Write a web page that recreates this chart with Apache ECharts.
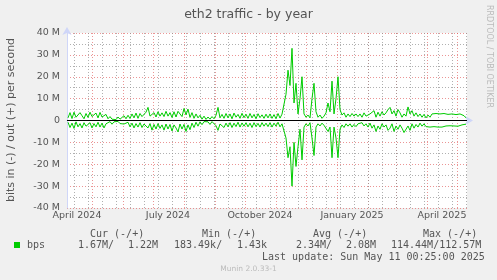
<!DOCTYPE html>
<html><head><meta charset="utf-8">
<script src="https://cdn.jsdelivr.net/npm/echarts@6/dist/echarts.min.js"></script>
<style>html,body{margin:0;padding:0;background:#F0F0F0;} #c{width:497px;height:280px;}</style>
</head><body><div id="c"></div>
<script>
// ---- data ----
const windowStart = '2024-04-06';   // left edge of the graph (400 days shown)
const windowDays = 400;
const firstSampleDay = 1;           // day offset of first sample
const sampleStepDays = 2;           // days between samples

// out (+) traffic, Mbit/s
const outMbps = [
 1.2, 3.6, 0.9, 3.8, 1.5, 1.0, 3.6, 2.2, 0.8, 3.2,
 1.4, 3.8, 1.8, 0.9, 3.4, 1.2, 3.7, 1.6, 1.0, 2.8,
 0.8, 1.8, 0.6, 1.4, 0.4, 1.6, 0.6, 1.2, 2.2, 0.8,
 2.4, 0.9, 3.0, 1.2, 3.4, 1.0, 3.2, 1.8, 1.2, 3.8,
 6.0, 2.0, 1.2, 3.6, 1.6, 4.0, 2.0, 3.5, 1.8, 4.2,
 2.0, 3.6, 1.4, 4.0, 1.6, 4.2, 4.4, 1.8, 5.5, 2.6,
 5.2, 1.4, 3.6, 1.0, 3.0, 1.2, 2.4, 0.6, 2.0, 0.5,
 1.6, 0.6, 1.8, 0.8, 2.4, 6.0, 1.2, 2.8, 1.0, 3.2,
 1.2, 3.0, 0.8, 3.4, 1.5, 2.8, 1.0, 3.3, 1.3, 2.9,
 1.0, 3.2, 1.2, 2.8, 0.8, 3.1, 1.3, 2.6, 1.0, 2.9,
 1.2, 3.0, 1.0, 2.7, 0.8, 3.2, 1.1, 2.9, 2.0,
 12, 23, 16, 33, 8, 17, 3, 10, 20, 3,
 1.5, 2.5, 1.2, 10, 17, 4, 1.5, 2.5, 1.0, 2.0,
 3.5, 8, 4, 18, 3, 10, 20, 5, 2.5, 3.5,
 1.5, 3.0, 1.8, 3.2, 2.0, 3.0, 1.8,
 3.0, 1.5, 3.5, 2.0, 1.2, 3.0, 2.2, 4.5, 1.5, 3.8,
 2.0, 4.0, 2.5, 3.5, 5.0, 6.0, 3.0, 4.5, 2.0, 5.0,
 3.5, 1.5, 3.0, 2.0, 6.2, 3.0, 4.5, 2.0, 3.5, 1.8,
 3.0, 1.5, 2.8, 1.2, 2.5, 1.5, 3.0, 2.5, 3.2, 2.8,
 3.0, 2.4, 3.2, 2.6, 2.8, 2.2, 3.0, 2.5, 2.7, 2.0,
 3.0, 2.5, 2.2, 1.2
];
// in (-) traffic, Mbit/s (drawn below zero)
const inMbps = [
 0.8, 3.2, 1.2, 3.6, 0.6, 2.9, 1.4, 3.4, 1.0, 2.6,
 3.2, 1.0, 3.4, 1.4, 2.9, 0.8, 3.0, 1.2, 3.4, 1.5,
 1.4, 0.5, 1.7, 0.6, 1.2, 0.4, 1.4, 0.6, 1.6, 2.3,
 0.8, 2.9, 1.2, 3.4, 1.4, 3.0, 1.0, 3.2, 1.6, 1.2,
 3.4, 1.4, 4.4, 1.8, 3.9, 1.4, 3.6, 2.0, 4.4, 1.6,
 3.9, 1.8, 4.8, 2.0, 3.4, 5.2, 1.6, 3.9, 1.8, 5.0,
 2.0, 4.2, 1.2, 3.2, 0.8, 2.6, 0.6, 1.9, 0.5, 1.4,
 0.6, 1.8, 0.5, 1.4, 2.4, 4.5, 1.6, 1.0, 3.2, 1.2,
 2.9, 1.0, 3.2, 1.2, 2.8, 0.8, 3.0, 1.1, 2.6, 1.0,
 2.9, 1.2, 3.2, 1.0, 2.8, 1.3, 3.0, 1.0, 2.6, 1.2,
 2.8, 1.0, 3.0, 1.2, 2.6, 0.8, 2.9, 1.5, 2.0,
 8, 17, 12, 30, 10, 21, 12, 4, 18, 3,
 1.5, 2.5, 1.0, 8, 16, 3, 1.5, 2.5, 1.2, 2.2,
 2.8, 5, 3, 17, 3, 8, 17, 4, 2.0, 3.2,
 1.5, 2.6, 1.5, 3.0, 1.8, 2.8, 1.5,
 2.0, 1.0, 2.5, 1.5, 3.0, 1.2, 3.5, 2.0, 5.0, 2.5,
 4.0, 1.5, 3.0, 2.0, 4.5, 3.5, 1.5, 5.0, 2.5, 4.0,
 2.0, 3.5, 5.5, 6.4, 2.5, 4.5, 1.5, 3.5, 1.8, 3.0,
 1.2, 2.6, 1.5, 2.8, 2.0, 3.0, 2.6, 2.8, 2.2, 3.0,
 2.5, 3.0, 2.7, 2.5, 3.0, 2.4, 2.8, 2.5, 3.0, 2.6,
 2.8, 2.0, 2.5, 1.67
];

const yTickValues = [-40, -30, -20, -10, 0, 10, 20, 30, 40];
const monthStarts = ['2024-05-01','2024-06-01','2024-07-01','2024-08-01','2024-09-01','2024-10-01',
  '2024-11-01','2024-12-01','2025-01-01','2025-02-01','2025-03-01','2025-04-01','2025-05-01'];
const firstMinorGrid = '2024-04-13';
const minorGridStepDays = 14;
const xLabelDates = ['2024-04-16','2024-07-16','2024-10-16','2025-01-16','2025-04-16'];
const xLabelTexts = ['April 2024','July 2024','October 2024','January 2025','April 2025'];

const title = 'eth2 traffic - by year';
const yName = 'bits in (-) / out (+) per second';
const legendHeaders = ['Cur (-/+)', 'Min (-/+)', 'Avg (-/+)', 'Max (-/+)'];
const legendName = 'bps';
const legendValues = ['1.67M/', '1.22M', '183.49k/', '1.43k', '2.34M/', '2.08M', '114.44M/112.57M'];
const lastUpdate = 'Last update: Sun May 11 00:25:00 2025';
const footer = 'Munin 2.0.33-1';
const sideText = 'RRDTOOL / TOBI OETIKER';

// ---- helpers ----
const DAY = 86400000;
const t0 = Date.parse(windowStart);
const dayOf = s => Math.round((Date.parse(s) - t0) / DAY);
const monthDays = monthStarts.map(dayOf);
const minorDays = [];
for (let d = dayOf(firstMinorGrid); d <= windowDays; d += minorGridStepDays) minorDays.push(d);
const labelDays = xLabelDates.map(dayOf);
const labelMap = {};
labelDays.forEach((d, i) => labelMap[d] = xLabelTexts[i]);
const sampleDays = outMbps.map((_, i) => firstSampleDay + i * sampleStepDays);

const FONT = '"DejaVu Sans", sans-serif';
const MONO = '"DejaVu Sans Mono", monospace';
const TXT = '#555';
const RED = 'rgba(222,79,79,0.6)';
const GREY = 'rgba(143,143,143,0.7)';
const AXIS = '#CFD6F8';

const chart = echarts.init(document.getElementById('c'), null, {renderer: 'canvas'});

const legendX = {hdr: [90, 202, 313, 423], vals: [78, 128, 174, 237, 296, 346, 391]};
const graphics = [
  {type: 'text', x: 11, y: 120, rotation: Math.PI / 2,
   style: {text: yName, fill: TXT, font: '11px ' + FONT, textAlign: 'center', textVerticalAlign: 'middle'}},
  {type: 'text', x: 489, y: 5, rotation: -Math.PI / 2,
   style: {text: sideText, fill: '#bbb', font: '8px ' + FONT, textAlign: 'left', textVerticalAlign: 'middle'}},
  {type: 'rect', shape: {x: 14, y: 242, width: 6, height: 6}, style: {fill: '#00CC00'}},
  {type: 'text', x: 27, y: 245.5, style: {text: legendName, fill: TXT, font: '10px ' + MONO, textVerticalAlign: 'middle'}},
  {type: 'text', x: 262, y: 257.5, style: {text: lastUpdate, fill: TXT, font: '10px ' + MONO, textVerticalAlign: 'middle'}},
  {type: 'text', x: 248.5, y: 269.5, style: {text: footer, fill: '#bbb', font: '7.5px ' + FONT, textAlign: 'center', textVerticalAlign: 'middle'}}
];
legendHeaders.forEach((h, i) => graphics.push({type: 'text', x: legendX.hdr[i], y: 234,
  style: {text: h, fill: TXT, font: '10px ' + MONO, textVerticalAlign: 'middle'}}));
legendValues.forEach((v, i) => graphics.push({type: 'text', x: legendX.vals[i], y: 245.5,
  style: {text: v, fill: TXT, font: '10px ' + MONO, textVerticalAlign: 'middle'}}));

const greenLine = {type: 'line', showSymbol: false, symbol: 'none', animation: false, z: 3,
  lineStyle: {color: '#00CC00', width: 1}};

chart.setOption({
  backgroundColor: '#F0F0F0',
  animation: false,
  title: {text: title, left: 'center', top: 3,
    textStyle: {color: TXT, fontSize: 12.5, fontWeight: 'normal', fontFamily: FONT}},
  grid: {left: 67, right: 30, top: 33, bottom: 72, show: true, backgroundColor: '#fff', borderWidth: 0},
  xAxis: [
    {type: 'value', min: 0, max: windowDays, position: 'bottom',
     axisLine: {show: true, lineStyle: {color: AXIS, width: 1}, symbol: ['none', 'arrow'], symbolSize: [7, 8], symbolOffset: [0, 6]},
     axisTick: {show: false, customValues: monthDays},
     splitLine: {show: true, lineStyle: {color: RED, width: 1, type: [1, 2]}},
     axisLabel: {customValues: labelDays, formatter: v => labelMap[Math.round(v)] || '',
       color: TXT, fontSize: 9.5, fontFamily: FONT, margin: 3}},
    {type: 'value', min: 0, max: windowDays, position: 'top',
     axisLine: {show: false}, axisTick: {show: false, customValues: minorDays},
     axisLabel: {show: false},
     splitLine: {show: true, lineStyle: {color: GREY, width: 1, type: [1, 2]}}}
  ],
  yAxis: {type: 'value', min: yTickValues[0], max: yTickValues[yTickValues.length - 1], interval: 10,
    axisLine: {show: true, lineStyle: {color: AXIS, width: 1}, symbol: ['none', 'arrow'], symbolSize: [7, 8], symbolOffset: [0, 6]},
    axisTick: {show: false},
    axisLabel: {formatter: v => v === 0 ? '0' : v + ' M', color: TXT, fontSize: 9.5, fontFamily: FONT, margin: 7},
    splitLine: {show: true, lineStyle: {color: RED, width: 1, type: [1, 2]}},
    minorTick: {show: false, splitNumber: 2},
    minorSplitLine: {show: true, lineStyle: {color: GREY, width: 1, type: [1, 2]}}},
  series: [
    Object.assign({}, greenLine, {name: 'out', data: sampleDays.map((d, i) => [d, outMbps[i]])}),
    Object.assign({}, greenLine, {name: 'in', data: sampleDays.map((d, i) => [d, -inMbps[i]])}),
    {type: 'line', data: [], z: 5, silent: true,
     markLine: {silent: true, symbol: 'none', animation: false, label: {show: false},
       lineStyle: {color: '#000', width: 1, type: 'solid'}, data: [{yAxis: 0}]}}
  ],
  graphic: graphics
});
</script></body></html>
